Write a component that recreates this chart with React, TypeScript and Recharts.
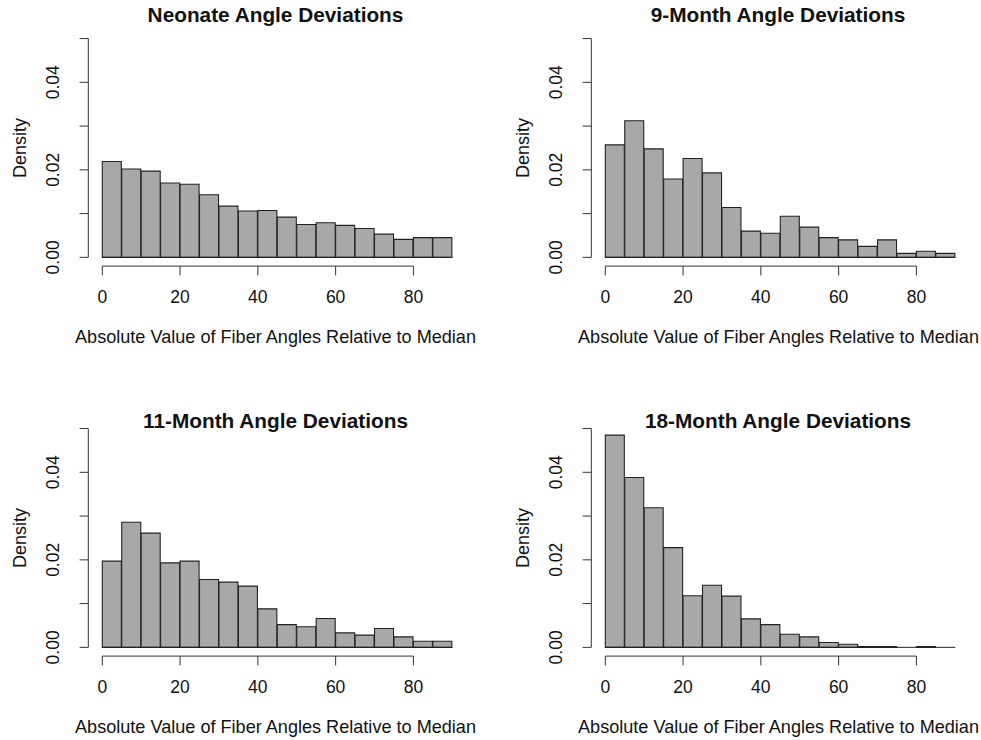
import { BarChart, Bar, XAxis, YAxis, ReferenceLine } from 'recharts';

// bin midpoints of the 5-degree histogram bins (0..90)
const binMids = [2.5, 7.5, 12.5, 17.5, 22.5, 27.5, 32.5, 37.5, 42.5, 47.5, 52.5, 57.5, 62.5, 67.5, 72.5, 77.5, 82.5, 87.5];
const xTicks = [0, 20, 40, 60, 80];
const yTicks = [0, 0.01, 0.02, 0.03, 0.04, 0.05];

const neonate = [0.0219, 0.0202, 0.0197, 0.017, 0.0167, 0.0143, 0.0117, 0.0106, 0.0107, 0.0092, 0.0075, 0.0079, 0.0073, 0.0066, 0.0053, 0.0041, 0.0045, 0.0045];
const month9 = [0.0257, 0.0312, 0.0248, 0.0179, 0.0226, 0.0193, 0.0114, 0.006, 0.0055, 0.0094, 0.0069, 0.0045, 0.004, 0.0025, 0.004, 0.0009, 0.0014, 0.0009];
const month11 = [0.0197, 0.0286, 0.0261, 0.0193, 0.0197, 0.0155, 0.0149, 0.014, 0.0088, 0.0052, 0.0047, 0.0066, 0.0033, 0.0028, 0.0043, 0.0024, 0.0014, 0.0014];
const month18 = [0.0485, 0.0388, 0.0319, 0.0228, 0.0118, 0.0142, 0.0117, 0.0065, 0.0052, 0.003, 0.0024, 0.0011, 0.0007, 0.0002, 0.0002, 0, 0.0002, 0];

const FONT = '"Liberation Sans", Arial, Helvetica, sans-serif';
const INK = '#111';
const AXIS = '#333';

// R-style 4% padding around the data range
const X_MIN = -3.6;
const X_MAX = 93.6;
const Y_MIN = -0.002;
const Y_MAX = 0.052;

const PANEL_W = 502;
const PANEL_H = 390;
const TEXT_CX = 275.5;

const XTick = ({ x, y, payload }: any) => (
  <text x={x} y={y} dy={25.9} textAnchor="middle" fontFamily={FONT} fontSize={17.5} fill={INK}>
    {payload.value}
  </text>
);

const YTick = ({ y, payload }: any) => {
  const v = payload.value;
  if (Math.round(v * 100) % 2 !== 0) return <g />;
  const cx = 53;
  return (
    <text
      x={cx}
      y={y}
      transform={`rotate(-90 ${cx} ${y})`}
      textAnchor="middle"
      dominantBaseline="central"
      fontFamily={FONT}
      fontSize={17.5}
      fill={INK}
    >
      {v.toFixed(2)}
    </text>
  );
};

const XTitle = () => (
  <text x={TEXT_CX} y={343.2} textAnchor="middle" fontFamily={FONT} fontSize={18.1} fill={INK}>
    Absolute Value of Fiber Angles Relative to Median
  </text>
);

const YTitle = () => (
  <text
    x={20}
    y={148}
    transform="rotate(-90 20 148)"
    textAnchor="middle"
    dominantBaseline="central"
    fontFamily={FONT}
    fontSize={18}
    fill={INK}
  >
    Density
  </text>
);

interface PanelProps {
  title: string;
  values: number[];
  left: number;
  top: number;
  titleBaseline: number;
}

function HistPanel({ title, values, left, top, titleBaseline }: PanelProps) {
  const data = binMids.map((mid, i) => ({ mid, density: values[i] }));
  const titleSize = 20.8;
  return (
    <div style={{ position: 'absolute', left, top, width: PANEL_W, height: PANEL_H }}>
      <BarChart
        width={PANEL_W}
        height={PANEL_H}
        data={data}
        margin={{ top: 29.8, right: 35.7, bottom: 43.9, left: 0 }}
        barCategoryGap={0}
        barGap={0}
      >
        <XAxis
          type="number"
          dataKey="mid"
          domain={[X_MIN, X_MAX]}
          allowDataOverflow
          ticks={xTicks}
          interval={0}
          height={80}
          axisLine={false}
          tickSize={9.3}
          tickLine={{ stroke: AXIS }}
          tick={<XTick />}
          label={<XTitle />}
        />
        <YAxis
          type="number"
          domain={[Y_MIN, Y_MAX]}
          allowDataOverflow
          ticks={yTicks}
          interval={0}
          width={88.3}
          axisLine={false}
          tickSize={8.7}
          tickLine={{ stroke: AXIS }}
          tick={<YTick />}
          label={<YTitle />}
        />
        <Bar dataKey="density" fill="#a8a8a8" stroke="#222" strokeWidth={1.1} isAnimationActive={false} />
        <ReferenceLine segment={[{ x: 0, y: 0 }, { x: 90, y: 0 }]} stroke="#222" ifOverflow="visible" />
        <ReferenceLine segment={[{ x: 0, y: Y_MIN }, { x: 80, y: Y_MIN }]} stroke={AXIS} ifOverflow="visible" />
        <ReferenceLine segment={[{ x: X_MIN, y: 0 }, { x: X_MIN, y: 0.05 }]} stroke={AXIS} ifOverflow="visible" />
      </BarChart>
      <div
        style={{
          position: 'absolute',
          left: TEXT_CX - 200,
          width: 400,
          top: titleBaseline - titleSize * 0.8465,
          textAlign: 'center',
          fontFamily: FONT,
          fontWeight: 'bold',
          fontSize: titleSize,
          lineHeight: `${titleSize}px`,
          color: INK,
          whiteSpace: 'nowrap',
        }}
      >
        {title}
      </div>
    </div>
  );
}

export default function App() {
  return (
    <div style={{ position: 'absolute', left: 0, top: 0, width: 981, height: 740, background: '#fff', overflow: 'hidden' }}>
      <HistPanel title="Neonate Angle Deviations" values={neonate} left={0} top={0} titleBaseline={22.7} />
      <HistPanel title="9-Month Angle Deviations" values={month9} left={502.5} top={0} titleBaseline={22.7} />
      <HistPanel title="11-Month Angle Deviations" values={month11} left={0} top={390} titleBaseline={39} />
      <HistPanel title="18-Month Angle Deviations" values={month18} left={502.5} top={390} titleBaseline={39} />
    </div>
  );
}
